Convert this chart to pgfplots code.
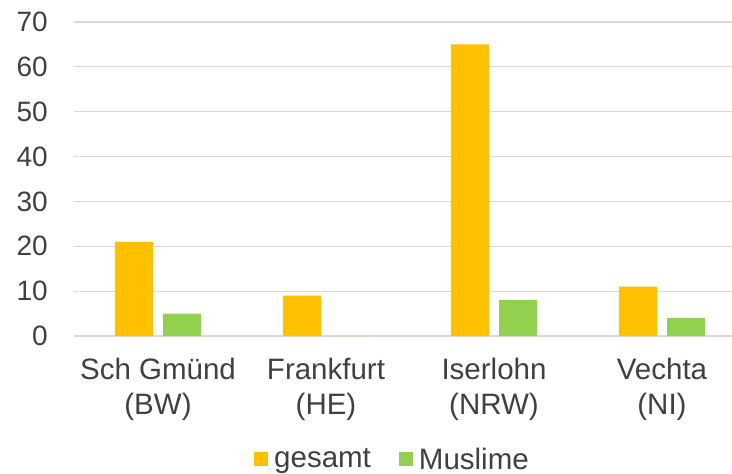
\documentclass[border=0pt]{standalone}
\usepackage{pgfplots}
\pgfplotsset{compat=1.18}
\usepackage{fontspec}
\setmainfont{Liberation Sans}
\definecolor{cgesamt}{HTML}{FFC000}
\definecolor{cmuslime}{HTML}{92D050}
\definecolor{ctxt}{HTML}{404040}
\definecolor{cgrid}{HTML}{D9D9D9}
\begin{document}
\begin{tikzpicture}
\useasboundingbox (-74bp,-138bp) rectangle (658bp,336bp);
\begin{axis}[
  at={(0,0)}, anchor=south west,
  scale only axis,
  width=658bp, height=314bp,
  ybar=10bp, bar width=38bp,
  xmin=-0.5, xmax=3.4167,
  ymin=0, ymax=70,
  ytick={0,10,...,70},
  xtick={0,1,2,3},
  xticklabels={{Sch Gmünd\\(BW)},{Frankfurt\\(HE)},{Iserlohn\\(NRW)},{Vechta\\(NI)}},
  /pgf/number format/assume math mode=true,
  font=\fontsize{28bp}{34bp}\selectfont,
  every tick label/.append style={text=ctxt},
  xticklabel style={align=center, anchor=north, inner sep=0pt, yshift=-22bp,
    font=\fontsize{29.5bp}{35bp}\selectfont},
  yticklabel style={anchor=east, inner sep=0pt, xshift=-26bp},
  axis line style={draw=none},
  major tick length=0pt,
  tick style={draw=none},
  ymajorgrids,
  major grid style={draw=cgrid, line width=1.2bp},
  legend columns=2,
  legend image code/.code={\fill[#1] (0bp,-7bp) rectangle (14bp,7bp);},
  legend style={draw=none, fill=none, inner sep=0pt, text=ctxt,
    at={(0.4825,-0.392)}, anchor=center,
    font=\fontsize{29.5bp}{35bp}\selectfont,
    /tikz/every even column/.append style={column sep=28bp},
    nodes={inner sep=0pt}},
  legend cell align=left,
]
\addplot[fill=cgesamt, draw=none] coordinates {(0,21) (1,9) (2,65) (3,11)};
\addplot[fill=cmuslime, draw=none] coordinates {(0,5) (1,0) (2,8) (3,4)};
\legend{\hspace{6bp}gesamt, \hspace{6bp}Muslime}
\end{axis}
\end{tikzpicture}
\end{document}
